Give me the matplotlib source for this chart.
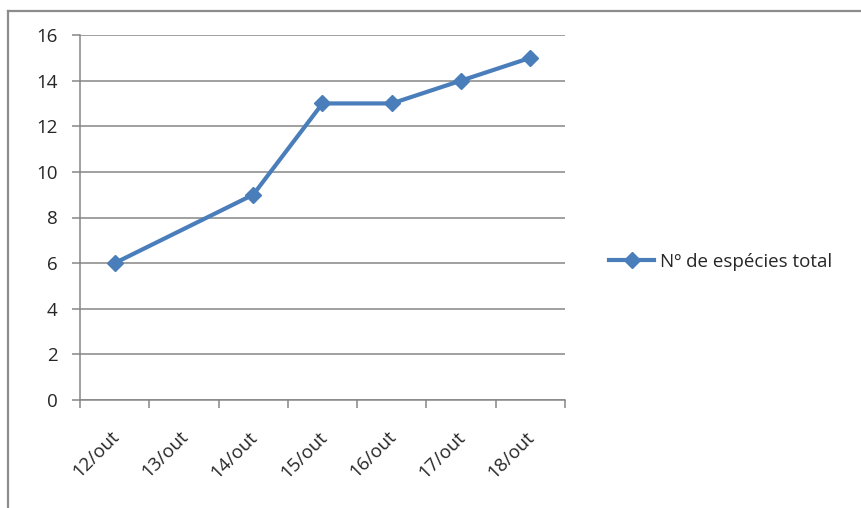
import matplotlib
matplotlib.use("Agg")
import matplotlib.pyplot as plt
import matplotlib.transforms as mtransforms
import numpy as np

# dados
dias = ["12/out", "13/out", "14/out", "15/out", "16/out", "17/out", "18/out"]
especies = [6, np.nan, 9, 13, 13, 14, 15]
serie_nome = "Nº de espécies total"

plt.rcParams["font.family"] = ["Open Sans", "DejaVu Sans"]

cinza = "#868686"
azul = "#4A7EBB"
texto = "#262626"
tam = 13.5

fig = plt.figure(figsize=(8.62, 5.08), dpi=100)
ax = fig.add_axes([80/862, 1-400/508, (565-80)/862, (400-35)/508])

x = np.arange(len(dias))
y = np.array(especies, dtype=float)
ok = ~np.isnan(y)
ax.plot(x[ok], y[ok], color=azul, lw=3.0, marker="D", markersize=8.5,
        markerfacecolor=azul, markeredgecolor=azul, label=serie_nome,
        solid_joinstyle="miter", zorder=3)

ax.set_xlim(-0.5, len(dias)-0.5)
ax.set_ylim(0, 16)
ax.set_yticks(np.arange(0, 17, 2))
ax.yaxis.grid(True, color=cinza, lw=1.1)
ax.set_axisbelow(True)

# rotulos nas categorias, tracinhos entre as categorias
ax.set_xticks(x)
ax.set_xticklabels(dias, rotation=45, ha="right", va="top", fontsize=tam,
                   color=texto)
ax.set_xticks(np.arange(-0.5, len(dias)), minor=True)
ax.tick_params(axis="x", which="major", length=0, pad=20)
ax.tick_params(axis="x", which="minor", length=6, width=1.1, color=cinza)
ax.tick_params(axis="y", length=6, width=1.1, color=cinza, pad=10,
               labelsize=tam, labelcolor=texto)
desloc = mtransforms.ScaledTranslation(8/100, 0, fig.dpi_scale_trans)
for lab in ax.get_xticklabels():
    lab.set_transform(lab.get_transform() + desloc)

for lado in ["top", "right"]:
    ax.spines[lado].set_visible(False)
for lado in ["left", "bottom"]:
    ax.spines[lado].set_color(cinza)
    ax.spines[lado].set_linewidth(1.1)

fig.legend(loc="center left", bbox_to_anchor=(600/862, 1-262/508),
           frameon=False, fontsize=tam, handlelength=2.4, handletextpad=0.3,
           borderpad=0, labelcolor=texto)

# moldura do grafico
fig.add_artist(plt.Line2D([8/862, 1], [1-11/508]*2, color="#8c8c8c", lw=1.6,
                          transform=fig.transFigure))
fig.add_artist(plt.Line2D([8/862]*2, [0, 1-11/508], color="#8c8c8c", lw=1.6,
                          transform=fig.transFigure))

fig.savefig("out.png", dpi=100)
